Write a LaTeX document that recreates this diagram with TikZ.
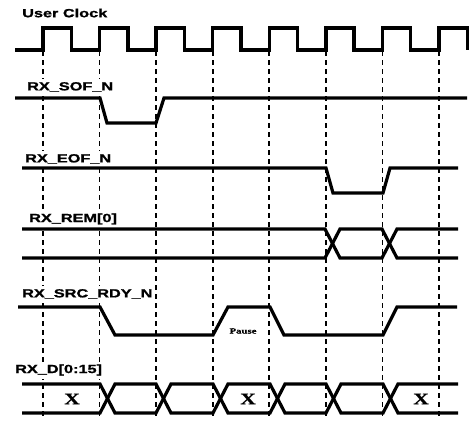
\documentclass[tikz,border=0pt]{standalone}
\usepackage{fontspec}
\newfontfamily\lblfont{Liberation Sans}[FakeStretch=1.38,FakeBold=1.2]
\newfontfamily\serfont{Liberation Serif}[FakeStretch=1.35,FakeBold=0.8]
\begin{document}
\begin{tikzpicture}[x=1pt,y=-1pt,
  sig/.style={line width=3.2pt,line join=miter,line cap=butt},
  clk/.style={line width=3.4pt,line join=miter},
  gridline/.style={line width=1.6pt,dash pattern=on 5pt off 4pt},
  lbl/.style={font=\lblfont\bfseries\fontsize{11.8}{13}\selectfont,anchor=west,fill=white,inner xsep=1pt,inner ysep=3pt},
  pausetxt/.style={font=\serfont\bfseries\fontsize{8}{9}\selectfont,inner sep=0pt},
  xtxt/.style={font=\serfont\bfseries\fontsize{16}{17}\selectfont,inner sep=0pt}]
\useasboundingbox (0,0) rectangle (472,424);
% dashed timing lines
\foreach \k in {0,...,7}
  \draw[gridline] ({43+\k*56.57},51) -- ({43+\k*56.57},419);
% labels
\node[lbl] (uclk) at (21,13) {User Clock};
\node[lbl] (sof) at (26,87) {RX\_SOF\_N};
\node[lbl] (eof) at (24,159) {RX\_EOF\_N};
\node[lbl] (rem) at (28,219) {RX\_REM[0]};
\node[lbl] (rdy) at (21,294) {RX\_SRC\_RDY\_N};
\node[lbl] (dat) at (14,370) {RX\_D[0:15]};
% clock
\draw[clk] (15,50) foreach \k in {0,...,7} { -- ({43+\k*56.57},50) -- ({43+\k*56.57},28) -- ({71.3+\k*56.57},28) -- ({71.3+\k*56.57},50) };
% RX_SOF_N
\draw[sig] (15,98) -- (100,98) -- (107,123) -- (156,123) -- (164,98) -- (467,98);
% RX_EOF_N
\draw[sig] (22,168) -- (326,168) -- (333,193) -- (383,193) -- (390,168) -- (458,168);
% RX_REM[0]
\draw[sig] (22,229) -- (325,229) -- (340,258) -- (382,258) -- (397,229) -- (458,229);
\draw[sig] (22,258) -- (325,258) -- (340,229) -- (382,229) -- (397,258) -- (458,258);
% RX_SRC_RDY_N
\draw[sig] (18,307) -- (100,307) -- (115,335) -- (213,335) -- (228,307) -- (270,307) -- (284,335) -- (383,335) -- (397,307) -- (457,307);
\node[pausetxt] (pause) at (243,331) {Pause};
% RX_D[0:15]
\draw[sig] (22,384) -- (100,384) -- (115,413) -- (156,413) -- (171,384) -- (213,384) -- (228,413) -- (270,413) -- (285,384) -- (326,384) -- (341,413) -- (383,413) -- (398,384) -- (458,384);
\draw[sig] (22,413) -- (100,413) -- (115,384) -- (156,384) -- (171,413) -- (213,413) -- (228,384) -- (270,384) -- (285,413) -- (326,413) -- (341,384) -- (383,384) -- (398,413) -- (458,413);
\node[xtxt] (x1) at (72,399) {X};
\node[xtxt] (x2) at (248,399) {X};
\node[xtxt] (x3) at (421,399) {X};
\end{tikzpicture}
\end{document}
